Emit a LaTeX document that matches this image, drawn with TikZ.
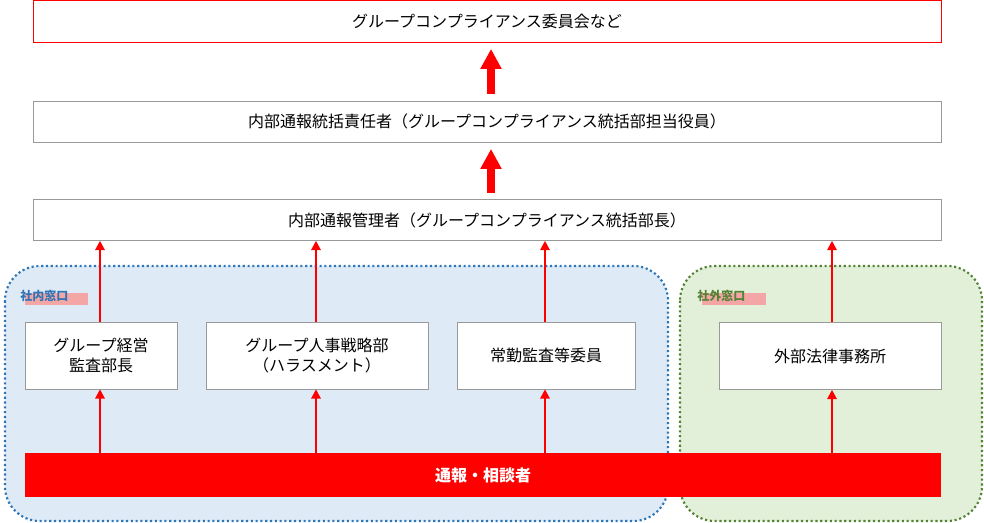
\documentclass[tikz,border=0pt]{standalone}
\usepackage{fontspec}
\setmainfont{Noto Sans CJK JP}
\usetikzlibrary{arrows.meta}
\definecolor{inblue}{HTML}{DEEBF7}
\definecolor{inline}{HTML}{2E75B6}
\definecolor{outgreen}{HTML}{E2F0D9}
\definecolor{outline}{HTML}{548235}
\definecolor{markpink}{HTML}{F4A6A6}

\begin{document}
\begin{tikzpicture}[x=0.75pt,y=-0.75pt,
    box/.style={draw=gray!80, fill=white, rectangle, inner sep=0pt, font=\fontsize{12}{15}\selectfont, align=center},
    topbox/.style={box, draw=red, minimum width=908*0.75pt, minimum height=42*0.75pt},
    wide/.style={box, minimum width=908*0.75pt, minimum height=41*0.75pt},
    desk/.style={box, minimum height=67*0.75pt},
    area/.style={line width=1.6pt, dotted, rounded corners=26pt},
    thinarrow/.style={-{Triangle[length=7pt,width=7pt]}, red, line width=1.5pt},
    bigarrow/.style={-{Triangle[length=15pt,width=15pt]}, red, line width=6pt, shorten >=5pt, shorten <=5pt},
    tag/.style={font=\fontsize{9}{11}\selectfont\bfseries, inner sep=0pt}]
    \useasboundingbox (0,0) rectangle (984,523);
    % Areas
    \draw[area, draw=inline, fill=inblue] (5,266) rectangle (668,521);
    \draw[area, draw=outline, fill=outgreen] (680,266) rectangle (982,521);
    \fill[markpink] (25,293) rectangle (88,305);
    \fill[markpink] (702,293) rectangle (766,305);
    \node[tag, text=inline, anchor=west] (lab-in) at (20,296) {社内窓口};
    \node[tag, text=outline, anchor=west] (lab-out) at (697,296) {社外窓口};

    % Upper chain
    \node[topbox] (committee) at (487,21) {グループコンプライアンス委員会など};
    \node[wide] (chief) at (487,121.5) {内部通報統括責任者（グループコンプライアンス統括部担当役員）};
    \node[wide] (manager) at (487,220) {内部通報管理者（グループコンプライアンス統括部長）};

    % Desks
    \node[desk, minimum width=152*0.75pt] (audit) at (101,355.5) {グループ経営\\監査部長};
    \node[desk, minimum width=222*0.75pt] (hr) at (317,355.5) {グループ人事戦略部\\（ハラスメント）};
    \node[desk, minimum width=178*0.75pt] (board) at (546,355.5) {常勤監査等委員};
    \node[desk, minimum width=222*0.75pt] (law) at (830,356) {外部法律事務所};

    % Reporter
    \node[fill=red, minimum width=916*0.75pt, minimum height=44*0.75pt, inner sep=0pt,
          text=white, font=\fontsize{12}{15}\selectfont\bfseries] (reporter) at (483,475) {通報・相談者};

    % Arrows
    \coordinate (mid) at (491,0);
    \draw[bigarrow] (chief.north -| mid) -- (committee.south -| mid);
    \draw[bigarrow] (manager.north -| mid) -- (chief.south -| mid);
    \foreach \n/\x in {audit/100, hr/316, board/545, law/832} {
        \coordinate (col) at (\x,0);
        \draw[thinarrow] (reporter.north -| col) -- (\n.south -| col);
        \draw[thinarrow] (\n.north -| col) -- (manager.south -| col);
    }
\end{tikzpicture}
\end{document}
